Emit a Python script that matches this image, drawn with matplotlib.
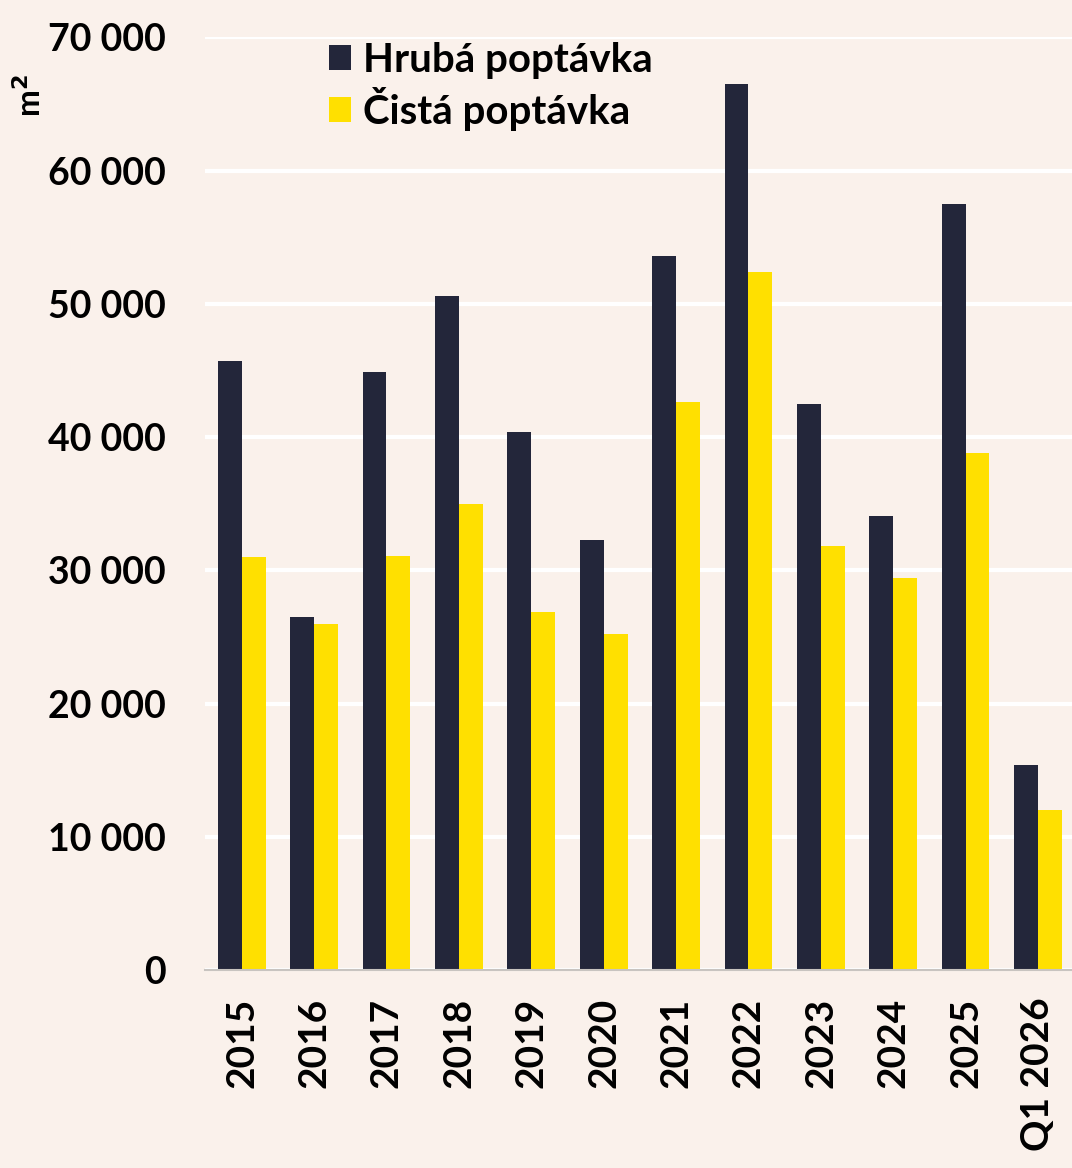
import numpy as np
import matplotlib
matplotlib.use('Agg')
from matplotlib import pyplot as plt

plt.rcParams['font.family'] = ['Lato', 'DejaVu Sans']
plt.rcParams['font.weight'] = 'bold'

years = ["2015", "2016", "2017", "2018", "2019", "2020",
         "2021", "2022", "2023", "2024", "2025", "Q1 2026"]
gross = [45700, 26500, 44900, 50600, 40400, 32300,
         53600, 66500, 42500, 34100, 57500, 15400]
net = [31000, 26000, 31100, 35000, 26900, 25200,
       42600, 52400, 31800, 29400, 38800, 12000]
yticks = [0, 10000, 20000, 30000, 40000, 50000, 60000, 70000]

bg = "#FAF1EB"
dark = "#23263A"
yellow = "#FFE000"

fig = plt.figure(figsize=(10.72, 11.68), dpi=100, facecolor=bg)
ax = fig.add_axes([0.191, 0.1695, 0.809, 0.7985])
ax.set_facecolor(bg)

x = np.arange(len(years))
w = 0.33
ax.bar(x - w/2, gross, w, color=dark, label="Hrubá poptávka", zorder=3)
ax.bar(x + w/2, net, w, color=yellow, label="Čistá poptávka", zorder=3)

ax.set_ylim(0, 70000)
ax.set_xlim(-0.51, 11.47)
ax.set_yticks(yticks)
ax.set_yticklabels([f"{v:,}".replace(",", " ") for v in yticks])
ax.set_xticks(x)
ax.set_xticklabels(years, rotation=90)
ax.tick_params(axis='y', length=0, pad=28, labelsize=27)
ax.tick_params(axis='x', length=0, pad=20, labelsize=28)

ax.grid(axis='y', color='white', linewidth=3, zorder=0)
for s in ['top', 'right', 'left']:
    ax.spines[s].set_visible(False)
ax.spines['bottom'].set_color('#C8C4C0')
ax.spines['bottom'].set_linewidth(1.5)
ax.spines['bottom'].set_zorder(4)

fig.text(0.028, 0.918, "m$^\\mathbf{2}$", rotation=90, fontsize=23,
         fontweight='bold', ha='center', va='center')

ax.legend(loc='upper left', bbox_to_anchor=(0.12, 1.017), frameon=False,
          fontsize=29, handlelength=0.55, handleheight=0.6, handletextpad=0.3,
          labelspacing=0.2, borderpad=0)

fig.savefig("out.png", dpi=100, facecolor=bg)
